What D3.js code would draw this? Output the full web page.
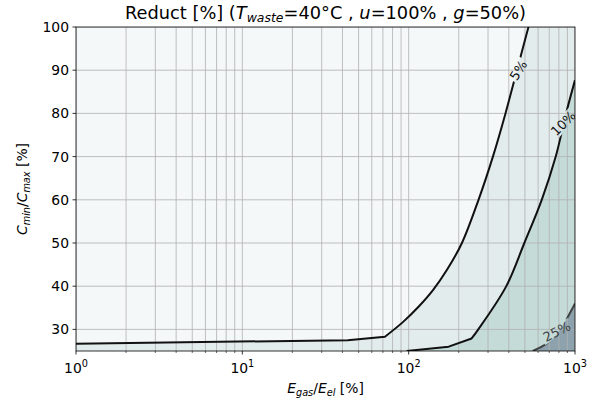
<!DOCTYPE html>
<html><head><meta charset="utf-8">
<script src="https://cdn.jsdelivr.net/npm/d3@7"></script>
<style>body{margin:0;background:#fff} text{font-family:"DejaVu Sans",sans-serif;fill:#000}</style>
</head><body>
<svg id="c" width="603" height="408"></svg>
<script>
// ---- data ----
const xTicks = [1, 10, 100, 1000];
const xTickExps = ["0", "1", "2", "3"];
const yTicks = [30, 40, 50, 60, 70, 80, 90, 100];
const levelNames = ["5%", "10%", "25%"];
const line5 = [[1,26.7],[43,27.5],[72,28.3],[93,31.8],[115,35.3],[140,39.1],[170,43.8],[209,50],[263,60],[321,70],[382,80],[448,90],[525,100]];
const line10 = [[97.3,25],[174,26.0],[239,27.9],[261,29.9],[385,39.9],[496,50],[631,60],[766,70],[884,80],[1000,87.7]];
const line25 = [[557,25],[741,27.9],[1000,36]];
const kinkIndex = [2, 2, 0]; // straight segments up to this point, smooth after
const labelAt = [[456,90],[850,77.7],[777,29.5]];

// ---- style ----
const fillColors = ["#f4f8f9", "#e3ecec", "#c5dbd8", "#8da2ad"];
const lineColors = ["#111", "#111", "#404444"];
const labelAngles = [-58, -45, -27];
const W = 603, H = 408;
const L = 76, R = 575, T = 27, B = 351;

const svg = d3.select("#c");
const x = d3.scaleLog().domain([1, 1000]).range([L, R]);
const y = d3.scaleLinear().domain([25, 100]).range([B, T]);

const defs = svg.append("defs");
defs.append("clipPath").attr("id", "clip").append("rect")
  .attr("x", L).attr("y", T).attr("width", R - L).attr("height", B - T);

const linGen = d3.line().x(d => x(d[0])).y(d => y(d[1]));
const smoothGen = d3.line().x(d => x(d[0])).y(d => y(d[1])).curve(d3.curveCatmullRom.alpha(0.5));
function contourPath(ln, k) {
  const a = linGen(ln.slice(0, k + 1));
  const b = smoothGen(ln.slice(k));
  return a + "L" + b.slice(1);
}

const plot = svg.append("g").attr("clip-path", "url(#clip)");
plot.append("rect").attr("x", L).attr("y", T).attr("width", R - L).attr("height", B - T).attr("fill", fillColors[0]);

const lines = [line5, line10, line25];
lines.forEach((ln, i) => {
  const p = contourPath(ln, kinkIndex[i]);
  const last = ln[ln.length - 1];
  let closing = "";
  if (last[1] >= 100) closing += `L${x(1000)},${y(100)}`;
  closing += `L${x(1000)},${y(25)}L${x(ln[0][0])},${y(25)}`;
  plot.append("path").attr("d", p + closing + "Z").attr("fill", fillColors[i + 1]);
});

// grid
const minor = [];
for (let k = 0; k < 3; k++) for (let m = 2; m <= 9; m++) minor.push(m * Math.pow(10, k));
const grid = plot.append("g").attr("stroke", "#b0b0b0").attr("stroke-width", 0.8);
xTicks.concat(minor).forEach(v => grid.append("line").attr("x1", x(v)).attr("x2", x(v)).attr("y1", T).attr("y2", B));
yTicks.forEach(v => grid.append("line").attr("x1", L).attr("x2", R).attr("y1", y(v)).attr("y2", y(v)));

// label mask (inline contour labels cut the line)
const mask = defs.append("mask").attr("id", "lblmask").attr("maskUnits", "userSpaceOnUse")
  .attr("x", 0).attr("y", 0).attr("width", W).attr("height", H);
mask.append("rect").attr("x", 0).attr("y", 0).attr("width", W).attr("height", H).attr("fill", "#fff");
const lblW = [24, 33, 33];
labelAt.forEach((p, i) => {
  mask.append("rect").attr("x", -lblW[i] / 2).attr("y", -7).attr("width", lblW[i]).attr("height", 14)
    .attr("fill", "#000")
    .attr("transform", `translate(${x(p[0])},${y(p[1])}) rotate(${labelAngles[i]})`);
});

const lg = plot.append("g").attr("mask", "url(#lblmask)");
lines.forEach((ln, i) => {
  lg.append("path").attr("d", contourPath(ln, kinkIndex[i])).attr("fill", "none")
    .attr("stroke", lineColors[i]).attr("stroke-width", 2).attr("stroke-linejoin", "round");
});

labelAt.forEach((p, i) => {
  plot.append("text").attr("transform", `translate(${x(p[0])},${y(p[1])}) rotate(${labelAngles[i]})`)
    .attr("text-anchor", "middle").attr("dy", "0.36em").attr("font-size", 13)
    .style("fill", lineColors[i]).text(levelNames[i]);
});

// spines
svg.append("rect").attr("x", L).attr("y", T).attr("width", R - L).attr("height", B - T)
  .attr("fill", "none").attr("stroke", "#000").attr("stroke-width", 0.8);

// ticks
const tk = svg.append("g").attr("stroke", "#000");
xTicks.forEach(v => tk.append("line").attr("x1", x(v)).attr("x2", x(v)).attr("y1", B).attr("y2", B + 3.5).attr("stroke-width", 0.8));
minor.forEach(v => tk.append("line").attr("x1", x(v)).attr("x2", x(v)).attr("y1", B).attr("y2", B + 2).attr("stroke-width", 0.6));
yTicks.forEach(v => tk.append("line").attr("x1", L - 3.5).attr("x2", L).attr("y1", y(v)).attr("y2", y(v)).attr("stroke-width", 0.8));

const fs = 13.9;
xTicks.forEach((v, i) => {
  const t = svg.append("text").attr("x", x(v)).attr("y", B + 22).attr("text-anchor", "middle").attr("font-size", fs);
  t.append("tspan").text("10");
  t.append("tspan").attr("dy", -6).attr("font-size", fs * 0.7).text(xTickExps[i]);
});
yTicks.forEach(v => {
  svg.append("text").attr("x", L - 7).attr("y", y(v)).attr("dy", "0.36em").attr("text-anchor", "end")
    .attr("font-size", fs).text(v);
});

// axis labels
function mathLabel(sel, parts, size) {
  parts.forEach(p => {
    const ts = sel.append("tspan").text(p.t);
    if (p.i) ts.attr("font-style", "italic");
    if (p.sub) ts.attr("font-size", size * 0.7).attr("dy", 3);
    if (p.up) ts.attr("dy", -3);
  });
}
const xl = svg.append("text").attr("x", (L + R) / 2).attr("y", 393).attr("text-anchor", "middle").attr("font-size", fs);
mathLabel(xl, [{t:"E",i:1},{t:"gas",i:1,sub:1},{t:"/",up:1},{t:"E",i:1},{t:"el",i:1,sub:1},{t:" [%]",up:1}], fs);

const yl = svg.append("text").attr("transform", `translate(26.5,${(T + B) / 2}) rotate(-90)`).attr("text-anchor", "middle").attr("font-size", fs);
mathLabel(yl, [{t:"C",i:1},{t:"min",i:1,sub:1},{t:"/",up:1},{t:"C",i:1},{t:"max",i:1,sub:1},{t:" [%]",up:1}], fs);

const tfs = 17.8;
const tt = svg.append("text").attr("x", (L + R) / 2).attr("y", 18.5).attr("text-anchor", "middle").attr("font-size", tfs);
[{t:"Reduct [%] ("},{t:"T",i:1},{t:"waste",i:1,sub:1},{t:"=40°C , ",up:1},{t:"u",i:1},{t:"=100% , "},{t:"g",i:1},{t:"=50%)"}].forEach(p => {
  const ts = tt.append("tspan").text(p.t);
  if (p.i) ts.attr("font-style", "italic");
  if (p.sub) ts.attr("font-size", tfs * 0.7).attr("dy", 3.8);
  if (p.up) ts.attr("dy", -3.8);
});
</script>
</body></html>
